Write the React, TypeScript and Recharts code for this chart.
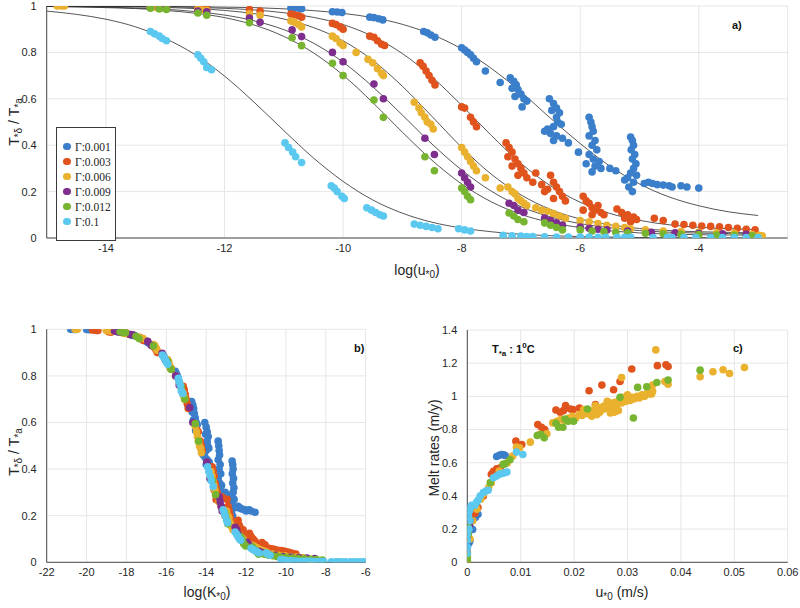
import React from 'react';
import { ComposedChart, ScatterChart, Scatter, Line, XAxis, YAxis, CartesianGrid } from 'recharts';

type Triple = [number, number, number]; // [log u*0, log K*0, T*δ/T*a]
type Pair = [number, number]; // [u*0 (m/s), melt rate (m/y)]

const gammaLabels = ['Γ:0.001', 'Γ:0.003', 'Γ:0.006', 'Γ:0.009', 'Γ:0.012', 'Γ:0.1'];
const seriesColors = ['#3b7fcb', '#e0531c', '#eab12e', '#7e2f8e', '#77b531', '#5bc8ef'];

const g001: Triple[] = [
  [-13.25, -20.8, 1.0], [-13.15, -20.7, 1.0], [-13.05, -20.6, 0.999], [-12.98, -20.53, 0.999],
  [-12.45, -20.0, 0.999], [-12.38, -19.93, 0.999], [-12.3, -19.85, 0.998],
  [-10.88, -18.43, 0.99], [-10.82, -18.37, 0.992], [-10.75, -18.3, 0.99], [-10.7, -18.25, 0.988],
  [-10.18, -17.73, 0.975], [-10.1, -17.65, 0.974], [-10.02, -17.57, 0.972],
  [-9.55, -17.1, 0.952], [-9.48, -17.03, 0.95], [-9.4, -16.95, 0.945], [-9.33, -16.88, 0.94],
  [-8.64, -16.19, 0.89], [-8.58, -16.13, 0.885], [-8.52, -16.07, 0.875], [-8.45, -16.0, 0.865],
  [-8.0, -15.55, 0.82], [-7.95, -15.5, 0.81], [-7.9, -15.45, 0.8], [-7.85, -15.4, 0.79], [-7.8, -15.35, 0.775], [-7.75, -15.3, 0.76],
  [-7.6, -15.15, 0.72], [-7.35, -14.9, 0.67],
  [-7.18, -14.73, 0.69], [-7.12, -14.67, 0.675], [-7.08, -14.63, 0.66], [-7.15, -14.7, 0.645], [-7.05, -14.6, 0.64],
  [-7.0, -14.55, 0.62], [-6.95, -14.5, 0.6], [-7.1, -14.65, 0.61], [-6.9, -14.45, 0.59], [-6.98, -14.53, 0.565],
  [-6.52, -14.07, 0.6], [-6.45, -14.0, 0.58], [-6.4, -13.95, 0.56], [-6.48, -14.03, 0.55], [-6.35, -13.9, 0.54],
  [-6.4, -13.95, 0.52], [-6.38, -13.93, 0.5], [-6.32, -13.87, 0.49], [-6.45, -14.0, 0.48], [-6.55, -14.1, 0.47],
  [-6.6, -14.15, 0.46], [-6.5, -14.05, 0.45], [-6.4, -13.95, 0.44], [-6.3, -13.85, 0.43], [-6.45, -14.0, 0.42], [-6.2, -13.75, 0.41],
  [-6.03, -13.58, 0.37],
  [-5.85, -13.4, 0.52], [-5.82, -13.37, 0.5], [-5.8, -13.35, 0.48], [-5.78, -13.33, 0.46], [-5.85, -13.4, 0.44],
  [-5.75, -13.3, 0.42], [-5.8, -13.35, 0.4], [-5.72, -13.27, 0.38], [-5.85, -13.4, 0.36], [-5.78, -13.33, 0.34],
  [-5.68, -13.23, 0.33], [-5.9, -13.45, 0.32], [-5.75, -13.3, 0.31], [-5.65, -13.2, 0.3], [-5.8, -13.35, 0.285],
  [-5.5, -13.05, 0.3], [-5.4, -12.95, 0.29],
  [-5.15, -12.7, 0.435], [-5.12, -12.67, 0.42], [-5.1, -12.65, 0.4], [-5.14, -12.69, 0.38], [-5.08, -12.63, 0.36],
  [-5.12, -12.67, 0.34], [-5.06, -12.61, 0.32], [-5.1, -12.65, 0.3], [-5.15, -12.7, 0.28], [-5.05, -12.6, 0.27],
  [-5.2, -12.75, 0.26], [-5.25, -12.8, 0.25], [-5.1, -12.65, 0.24], [-5.18, -12.73, 0.22], [-5.12, -12.67, 0.2],
  [-4.92, -12.47, 0.235], [-4.85, -12.4, 0.24], [-4.78, -12.33, 0.235], [-4.7, -12.25, 0.23], [-4.6, -12.15, 0.228],
  [-4.5, -12.05, 0.225], [-4.45, -12.0, 0.22], [-4.3, -11.85, 0.225], [-4.2, -11.75, 0.22], [-4.0, -11.55, 0.215],
];

const g003: Triple[] = [
  [-13.25, -19.7, 0.997], [-13.15, -19.6, 0.996], [-13.05, -19.5, 0.995], [-12.98, -19.43, 0.995],
  [-12.45, -18.9, 0.99], [-12.38, -18.83, 0.99], [-12.3, -18.75, 0.988],
  [-11.58, -18.03, 0.985], [-11.4, -17.85, 0.978],
  [-10.88, -17.33, 0.965], [-10.82, -17.27, 0.962], [-10.75, -17.2, 0.958], [-10.7, -17.15, 0.952],
  [-10.18, -16.63, 0.925], [-10.12, -16.57, 0.92], [-10.05, -16.5, 0.91], [-10.0, -16.45, 0.9],
  [-9.55, -16.0, 0.87], [-9.48, -15.93, 0.865], [-9.42, -15.87, 0.85], [-9.35, -15.8, 0.835], [-9.3, -15.75, 0.83],
  [-8.7, -15.15, 0.755], [-8.65, -15.1, 0.74], [-8.6, -15.05, 0.72], [-8.55, -15.0, 0.7], [-8.5, -14.95, 0.68], [-8.45, -14.9, 0.66],
  [-8.0, -14.45, 0.565], [-7.95, -14.4, 0.56], [-7.85, -14.3, 0.52], [-7.8, -14.25, 0.5], [-7.75, -14.2, 0.48],
  [-7.25, -13.7, 0.41], [-7.2, -13.65, 0.39], [-7.15, -13.6, 0.37], [-7.22, -13.67, 0.35], [-7.1, -13.55, 0.34],
  [-7.05, -13.5, 0.32], [-7.15, -13.6, 0.31], [-7.0, -13.45, 0.3], [-6.95, -13.4, 0.28], [-7.05, -13.5, 0.27], [-6.9, -13.35, 0.26],
  [-6.75, -13.2, 0.28], [-6.8, -13.25, 0.24], [-6.65, -13.1, 0.23], [-6.5, -12.95, 0.27], [-6.45, -12.9, 0.24],
  [-6.4, -12.85, 0.22], [-6.55, -13.0, 0.21], [-6.35, -12.8, 0.2], [-6.3, -12.75, 0.18], [-6.45, -12.9, 0.17],
  [-6.25, -12.7, 0.16], [-6.6, -13.05, 0.2],
  [-5.95, -12.4, 0.18], [-5.9, -12.35, 0.16], [-5.85, -12.3, 0.15], [-5.8, -12.25, 0.13], [-5.75, -12.2, 0.12],
  [-5.7, -12.15, 0.14], [-5.65, -12.1, 0.11], [-5.6, -12.05, 0.1], [-5.95, -12.4, 0.12], [-5.8, -12.25, 0.1],
  [-5.38, -11.83, 0.125], [-5.3, -11.75, 0.11], [-5.2, -11.65, 0.1], [-5.1, -11.55, 0.09], [-5.05, -11.5, 0.08],
  [-5.25, -11.7, 0.085], [-5.15, -11.6, 0.07],
  [-4.75, -11.2, 0.085], [-4.6, -11.05, 0.075],
  [-4.4, -10.85, 0.06], [-4.25, -10.7, 0.058], [-4.1, -10.55, 0.055], [-3.95, -10.4, 0.052], [-3.8, -10.25, 0.05],
  [-3.65, -10.1, 0.048], [-3.5, -9.95, 0.045], [-3.35, -9.8, 0.042], [-3.2, -9.65, 0.038], [-3.05, -9.5, 0.035],
];

const g006: Triple[] = [
  [-14.82, -20.58, 1.0], [-14.75, -20.51, 1.0], [-14.7, -20.46, 1.0],
  [-13.25, -19.01, 0.995], [-13.15, -18.91, 0.994], [-13.05, -18.81, 0.993], [-12.98, -18.74, 0.993],
  [-12.45, -18.21, 0.985], [-12.38, -18.14, 0.983], [-12.3, -18.06, 0.982],
  [-11.58, -17.34, 0.966], [-11.4, -17.16, 0.96],
  [-10.88, -16.64, 0.935], [-10.82, -16.58, 0.93], [-10.75, -16.51, 0.92], [-10.7, -16.46, 0.91],
  [-10.18, -15.94, 0.87], [-10.12, -15.88, 0.86], [-10.05, -15.81, 0.84], [-10.0, -15.76, 0.83],
  [-9.78, -15.54, 0.8],
  [-9.58, -15.34, 0.77], [-9.5, -15.26, 0.755], [-9.42, -15.18, 0.73], [-9.35, -15.11, 0.71], [-9.32, -15.08, 0.7],
  [-8.8, -14.56, 0.585], [-8.72, -14.48, 0.56], [-8.68, -14.44, 0.54], [-8.62, -14.38, 0.52], [-8.58, -14.34, 0.5],
  [-8.52, -14.28, 0.49], [-8.48, -14.24, 0.47],
  [-8.0, -13.76, 0.39], [-7.95, -13.71, 0.37], [-7.9, -13.66, 0.35], [-7.85, -13.61, 0.33], [-7.8, -13.56, 0.31], [-7.75, -13.51, 0.29],
  [-7.6, -13.36, 0.26], [-7.35, -13.11, 0.215],
  [-7.22, -12.98, 0.22], [-7.15, -12.91, 0.2], [-7.1, -12.86, 0.19], [-7.05, -12.81, 0.17], [-7.0, -12.76, 0.16],
  [-6.95, -12.71, 0.15], [-6.9, -12.66, 0.14],
  [-6.75, -12.51, 0.13], [-6.65, -12.41, 0.12], [-6.55, -12.31, 0.115], [-6.45, -12.21, 0.105], [-6.35, -12.11, 0.095], [-6.25, -12.01, 0.085],
  [-6.0, -11.76, 0.075], [-5.85, -11.61, 0.07], [-5.7, -11.46, 0.062], [-5.55, -11.31, 0.055], [-5.4, -11.16, 0.05],
  [-5.25, -11.01, 0.045], [-5.15, -10.91, 0.04],
  [-4.9, -10.66, 0.035], [-4.6, -10.36, 0.03], [-4.3, -10.06, 0.028], [-4.0, -9.76, 0.025], [-3.7, -9.46, 0.022],
  [-3.4, -9.16, 0.02], [-3.1, -8.86, 0.015], [-2.98, -8.74, 0.012], [-2.93, -8.69, 0.01],
];

const g009: Triple[] = [
  [-13.25, -18.6, 0.993], [-13.1, -18.45, 0.99], [-12.98, -18.33, 0.988],
  [-12.45, -17.8, 0.978], [-12.3, -17.65, 0.975],
  [-11.58, -16.93, 0.948], [-11.4, -16.75, 0.93],
  [-10.86, -16.21, 0.897], [-10.7, -16.05, 0.868],
  [-10.18, -15.53, 0.8], [-10.0, -15.35, 0.76],
  [-9.48, -14.83, 0.664], [-9.32, -14.67, 0.6],
  [-8.62, -13.97, 0.43], [-8.46, -13.81, 0.36],
  [-8.0, -13.35, 0.28], [-7.95, -13.3, 0.26], [-7.9, -13.25, 0.24], [-7.85, -13.2, 0.22],
  [-7.2, -12.55, 0.15], [-7.12, -12.47, 0.14], [-7.05, -12.4, 0.12], [-6.95, -12.3, 0.11],
  [-6.6, -11.95, 0.086], [-6.5, -11.85, 0.075], [-6.4, -11.75, 0.065], [-6.3, -11.65, 0.056],
  [-6.0, -11.35, 0.047], [-5.85, -11.2, 0.042], [-5.7, -11.05, 0.038], [-5.55, -10.9, 0.035],
  [-5.2, -10.55, 0.03], [-4.8, -10.15, 0.025], [-4.4, -9.75, 0.022], [-4.0, -9.35, 0.02], [-3.6, -8.95, 0.018], [-3.2, -8.55, 0.016],
];

const g012: Triple[] = [
  [-13.25, -18.32, 0.99], [-13.1, -18.17, 0.987], [-12.98, -18.05, 0.985],
  [-12.45, -17.52, 0.97], [-12.3, -17.37, 0.96],
  [-11.58, -16.65, 0.928],
  [-10.86, -15.93, 0.863], [-10.7, -15.77, 0.829],
  [-10.18, -15.25, 0.753], [-10.0, -15.07, 0.7],
  [-9.48, -14.55, 0.595], [-9.32, -14.39, 0.52],
  [-8.62, -13.69, 0.35], [-8.46, -13.53, 0.29],
  [-8.0, -13.07, 0.215], [-7.95, -13.02, 0.2], [-7.9, -12.97, 0.18], [-7.85, -12.92, 0.165],
  [-7.2, -12.27, 0.108], [-7.12, -12.19, 0.095], [-7.05, -12.12, 0.08], [-6.95, -12.02, 0.07],
  [-6.6, -11.67, 0.065], [-6.5, -11.57, 0.055], [-6.4, -11.47, 0.045], [-6.3, -11.37, 0.035],
  [-6.0, -11.07, 0.035], [-5.8, -10.87, 0.03], [-5.6, -10.67, 0.028], [-5.4, -10.47, 0.025], [-5.2, -10.27, 0.022],
  [-4.9, -9.97, 0.02], [-4.6, -9.67, 0.018], [-4.3, -9.37, 0.016], [-4.0, -9.07, 0.015], [-3.7, -8.77, 0.013],
  [-3.4, -8.47, 0.012], [-3.1, -8.17, 0.01],
];

const g100: Triple[] = [
  [-13.25, -16.2, 0.89], [-13.18, -16.13, 0.88], [-13.1, -16.05, 0.87], [-13.05, -16.0, 0.86], [-12.98, -15.93, 0.85],
  [-12.45, -15.4, 0.79], [-12.4, -15.35, 0.775], [-12.35, -15.3, 0.76], [-12.3, -15.25, 0.735], [-12.22, -15.17, 0.725],
  [-10.98, -13.93, 0.41], [-10.92, -13.87, 0.39], [-10.85, -13.8, 0.37], [-10.8, -13.75, 0.35], [-10.7, -13.65, 0.325],
  [-10.2, -13.15, 0.225], [-10.15, -13.1, 0.215], [-10.1, -13.05, 0.2], [-10.02, -12.97, 0.18], [-9.98, -12.93, 0.17],
  [-9.6, -12.55, 0.13], [-9.52, -12.47, 0.12], [-9.45, -12.4, 0.11], [-9.38, -12.33, 0.1], [-9.32, -12.27, 0.095],
  [-8.8, -11.75, 0.06], [-8.7, -11.65, 0.055], [-8.6, -11.55, 0.05], [-8.5, -11.45, 0.045], [-8.4, -11.35, 0.04],
  [-8.05, -11.0, 0.04], [-7.95, -10.9, 0.035], [-7.85, -10.8, 0.03],
  [-7.3, -10.25, 0.012], [-7.15, -10.1, 0.01], [-7.0, -9.95, 0.008], [-6.9, -9.85, 0.006],
  [-6.8, -9.75, 0.006], [-6.6, -9.55, 0.005], [-6.4, -9.35, 0.004], [-6.2, -9.15, 0.004],
  [-6.0, -8.95, 0.004], [-5.85, -8.8, 0.004], [-5.7, -8.65, 0.003], [-5.57, -8.52, 0.003],
  [-5.38, -8.33, 0.003], [-5.25, -8.2, 0.003], [-5.15, -8.1, 0.003],
  [-4.77, -7.72, 0.002], [-4.53, -7.48, 0.002],
  [-4.45, -7.4, 0.002], [-4.25, -7.2, 0.002], [-4.05, -7.0, 0.002], [-3.8, -6.75, 0.002],
  [-3.6, -6.55, 0.002], [-3.4, -6.35, 0.002], [-3.2, -6.15, 0.002], [-3.0, -6.0, 0.002],
];

// fitted curves for panel a, sampled every 0.5 in log(u*0)
const curveX = [-15, -14.5, -14, -13.5, -13, -12.5, -12, -11.5, -11, -10.5, -10, -9.5, -9, -8.5, -8, -7.5, -7, -6.5, -6, -5.5, -5, -4.5, -4, -3.5, -3];
const fit001 = [1.0, 1.0, 0.999, 0.999, 0.998, 0.997, 0.995, 0.993, 0.988, 0.98, 0.968, 0.95, 0.921, 0.877, 0.815, 0.731, 0.63, 0.516, 0.407, 0.31, 0.233, 0.177, 0.139, 0.113, 0.097];
const fit003 = [1.0, 0.999, 0.999, 0.998, 0.997, 0.994, 0.99, 0.983, 0.971, 0.951, 0.92, 0.869, 0.795, 0.694, 0.572, 0.442, 0.322, 0.225, 0.154, 0.106, 0.076, 0.057, 0.046, 0.04, 0.036];
const fit006 = [0.999, 0.999, 0.998, 0.996, 0.994, 0.989, 0.981, 0.967, 0.944, 0.907, 0.85, 0.766, 0.654, 0.524, 0.391, 0.275, 0.186, 0.123, 0.082, 0.057, 0.041, 0.032, 0.027, 0.024, 0.022];
const fit009 = [0.998, 0.997, 0.995, 0.991, 0.986, 0.976, 0.961, 0.936, 0.898, 0.84, 0.758, 0.652, 0.53, 0.405, 0.293, 0.202, 0.135, 0.091, 0.062, 0.044, 0.032, 0.025, 0.021, 0.019, 0.017];
const fit012 = [0.998, 0.996, 0.993, 0.989, 0.981, 0.969, 0.95, 0.918, 0.869, 0.798, 0.702, 0.584, 0.456, 0.335, 0.233, 0.156, 0.102, 0.067, 0.045, 0.031, 0.022, 0.017, 0.014, 0.013, 0.012];
const fit100 = [0.978, 0.964, 0.943, 0.91, 0.86, 0.791, 0.698, 0.585, 0.463, 0.345, 0.244, 0.164, 0.107, 0.068, 0.043, 0.027, 0.016, 0.01, 0.006, 0.004, 0.002, 0.001, 0.001, 0, 0];

// melt rate against friction velocity (panel c)
const melt001: Pair[] = [
  [0.0, 0.02], [0.0, 0.05], [0.0, 0.09], [0.0003, 0.115], [0.0005, 0.13], [0.0008, 0.2], [0.001, 0.198],
  [0.0015, 0.27], [0.0017, 0.284], [0.002, 0.29],
  [0.0055, 0.638], [0.006, 0.645], [0.0064, 0.65], [0.0068, 0.648], [0.0071, 0.644],
];
const melt003: Pair[] = [
  [0.0, 0.01], [0.0, 0.06], [0.0, 0.15], [0.0005, 0.24], [0.0014, 0.294], [0.002, 0.33], [0.003, 0.4],
  [0.0045, 0.53], [0.0049, 0.548], [0.0055, 0.564], [0.0062, 0.57], [0.0091, 0.73], [0.0102, 0.71],
  [0.0132, 0.83], [0.0139, 0.814], [0.0145, 0.8], [0.0166, 0.918], [0.0174, 0.904], [0.018, 0.914],
  [0.0184, 0.944], [0.0193, 0.924], [0.0198, 0.92], [0.021, 0.93], [0.024, 0.95],
  [0.0228, 1.034], [0.0252, 1.068], [0.0274, 1.04], [0.0286, 1.09], [0.0308, 1.165],
  [0.0356, 1.185], [0.0372, 1.19], [0.0376, 1.18],
];
const melt006: Pair[] = [
  [0.0, 0.0], [0.0, 0.01], [0.0, 0.04], [0.0005, 0.14], [0.001, 0.25], [0.0018, 0.32], [0.0025, 0.38],
  [0.003, 0.41], [0.004, 0.45], [0.0045, 0.48], [0.006, 0.55], [0.0075, 0.6], [0.0085, 0.64], [0.0092, 0.694],
  [0.0098, 0.69], [0.0118, 0.724], [0.0135, 0.77], [0.0149, 0.774],
  [0.016, 0.84], [0.0168, 0.85], [0.0175, 0.86], [0.0182, 0.855], [0.019, 0.87], [0.0197, 0.88], [0.0203, 0.87],
  [0.021, 0.89], [0.0215, 0.885], [0.022, 0.9], [0.0225, 0.895], [0.023, 0.91], [0.0233, 0.88], [0.0238, 0.92],
  [0.0242, 0.905], [0.0247, 0.93], [0.025, 0.915], [0.0255, 0.94], [0.0258, 0.925], [0.0262, 0.95], [0.0266, 0.935],
  [0.027, 0.96], [0.0274, 0.945], [0.0277, 0.965], [0.0281, 0.955], [0.0285, 0.975], [0.0289, 0.96], [0.0293, 0.98],
  [0.0297, 0.97], [0.0301, 0.99], [0.0305, 0.975], [0.0309, 0.995], [0.0313, 0.985], [0.0318, 1.0], [0.0322, 0.99],
  [0.0327, 1.01], [0.0332, 1.0], [0.0337, 1.02], [0.0342, 1.015], [0.0347, 1.03],
  [0.0243, 0.89], [0.0268, 0.9], [0.0278, 0.91], [0.0283, 0.915], [0.0275, 0.905], [0.0248, 0.905],
  [0.0218, 0.92], [0.024, 0.945], [0.0262, 0.97], [0.029, 0.995], [0.03, 1.01],
  [0.0289, 1.114], [0.0345, 1.014], [0.0353, 1.28], [0.0347, 1.068], [0.037, 1.089], [0.0376, 1.073],
  [0.0436, 1.118], [0.046, 1.148], [0.0479, 1.16], [0.0491, 1.138], [0.0519, 1.174],
];
const melt009: Pair[] = [
  [0.0, 0.16], [0.0, 0.18], [0.0002, 0.19], [0.0004, 0.22], [0.0005, 0.25],
];
const melt012: Pair[] = [
  [0.0, 0.005], [0.0, 0.03], [0.0002, 0.17], [0.0002, 0.21], [0.0043, 0.48], [0.0067, 0.59], [0.0071, 0.594],
  [0.008, 0.618], [0.0131, 0.764], [0.0138, 0.77], [0.0144, 0.75], [0.0166, 0.838], [0.0171, 0.814],
  [0.0179, 0.814], [0.0183, 0.864], [0.0189, 0.85], [0.0199, 0.85], [0.0225, 0.924], [0.0286, 0.994],
  [0.0311, 0.87], [0.0319, 1.054], [0.0336, 1.058], [0.0355, 1.084], [0.0376, 1.098], [0.0436, 1.158],
];
const melt100: Pair[] = [
  [0.0, 0.054], [0.0, 0.09], [0.0, 0.134], [0.0, 0.17], [0.0003, 0.2], [0.0005, 0.25], [0.0002, 0.28],
  [0.0004, 0.31], [0.0006, 0.33], [0.0008, 0.344], [0.0014, 0.344], [0.0017, 0.36], [0.002, 0.374],
  [0.0024, 0.4], [0.003, 0.42], [0.0035, 0.43], [0.0039, 0.434], [0.0049, 0.51], [0.0055, 0.52],
  [0.006, 0.53], [0.0065, 0.535], [0.007, 0.54], [0.0074, 0.544], [0.0092, 0.664], [0.0104, 0.65],
];

const logSeries = [g001, g003, g006, g009, g012, g100];
const fitSeries = [fit001, fit003, fit006, fit009, fit012, fit100];
const meltSeries = [melt001, melt003, melt006, melt009, melt012, melt100];

const ticksA = [-14, -12, -10, -8, -6, -4];
const ticksB = [-22, -20, -18, -16, -14, -12, -10, -8, -6];
const ticksC = [0, 0.01, 0.02, 0.03, 0.04, 0.05, 0.06];
const ratioTicks = [0, 0.2, 0.4, 0.6, 0.8, 1];
const meltTicks = [0, 0.2, 0.4, 0.6, 0.8, 1, 1.2, 1.4];

const FONT = '"Liberation Sans", Arial, Helvetica, sans-serif';
const AXIS = '#4a4a4a';
const GRID = '#e6e6e6';
const TICK = { fontSize: 11, fill: '#262626', fontFamily: FONT };

const dot = (color: string) => (props: any) =>
  <circle cx={props.cx} cy={props.cy} r={3.8} fill={color} />;

const abs = (left: number, top: number): React.CSSProperties => ({ position: 'absolute', left, top });

const ratioTitle = (
  <span>T<sub style={{ fontSize: 10 }}>*δ</sub> / T<sub style={{ fontSize: 10 }}>*a</sub></span>
);

function YTitle({ x, y, children }: { x: number; y: number; children: React.ReactNode }) {
  return (
    <div style={{ ...abs(x, y), transform: 'translate(-50%, -50%) rotate(-90deg)', whiteSpace: 'nowrap', fontSize: 14, color: '#262626' }}>
      {children}
    </div>
  );
}

function XTitle({ x, y, children }: { x: number; y: number; children: React.ReactNode }) {
  return (
    <div style={{ ...abs(x, y), transform: 'translate(-50%, -50%)', whiteSpace: 'nowrap', fontSize: 14, color: '#262626' }}>
      {children}
    </div>
  );
}

function Tag({ x, y, children }: { x: number; y: number; children: React.ReactNode }) {
  return (
    <div style={{ ...abs(x, y), fontSize: 11, fontWeight: 'bold', color: '#111', whiteSpace: 'nowrap' }}>{children}</div>
  );
}

function GammaLegend() {
  return (
    <div style={{ ...abs(56, 127), width: 58, height: 101, border: '1px solid #3a3a3a', background: '#fff', paddingTop: 11 }}>
      {gammaLabels.map((label, i) => (
        <div key={label} style={{ height: 15, display: 'flex', alignItems: 'center', fontFamily: '"Liberation Serif", "Times New Roman", serif', fontSize: 11.5, color: '#222' }}>
          <span style={{ width: 7.5, height: 7.5, borderRadius: '50%', background: seriesColors[i], marginLeft: 6, marginRight: 4.5 }} />
          {label}
        </div>
      ))}
    </div>
  );
}

function PanelA() {
  return (
    <ComposedChart width={800} height={290} margin={{ top: 6, right: 12.3, bottom: 22, left: 6.7 }}>
      <CartesianGrid stroke={GRID} />
      <XAxis type="number" dataKey="x" domain={[-15, -2.5]} ticks={ticksA} allowDataOverflow tick={TICK}
        tickLine={false} axisLine={{ stroke: AXIS }} height={30} tickMargin={0} />
      <YAxis type="number" dataKey="y" domain={[0, 1]} ticks={ratioTicks} allowDataOverflow tick={TICK}
        tickLine={false} axisLine={{ stroke: AXIS }} width={40} tickMargin={4} />
      {logSeries.map((s, i) => (
        <Scatter key={gammaLabels[i]} data={s.map((p) => ({ x: p[0], y: p[2] }))} shape={dot(seriesColors[i])} isAnimationActive={false} />
      ))}
      {fitSeries.map((f, i) => (
        <Line key={'fit' + i} data={curveX.map((x, j) => ({ x, y: f[j] }))} dataKey="y" type="monotone" stroke="#2b2b2b"
          strokeWidth={0.8} dot={false} activeDot={false} isAnimationActive={false} />
      ))}
    </ComposedChart>
  );
}

function PanelB() {
  return (
    <ScatterChart width={400} height={308} margin={{ top: 29.3, right: 34.3, bottom: 15.7, left: 6.7 }}>
      <CartesianGrid stroke={GRID} />
      <XAxis type="number" dataKey="x" domain={[-22, -6]} ticks={ticksB} allowDataOverflow tick={TICK}
        tickLine={false} axisLine={{ stroke: AXIS }} height={30} tickMargin={0} />
      <YAxis type="number" dataKey="y" domain={[0, 1]} ticks={ratioTicks} allowDataOverflow tick={TICK}
        tickLine={false} axisLine={{ stroke: AXIS }} width={40} tickMargin={4} />
      {logSeries.map((s, i) => (
        <Scatter key={gammaLabels[i]} data={s.map((p) => ({ x: p[1], y: p[2] }))} shape={dot(seriesColors[i])} isAnimationActive={false} />
      ))}
    </ScatterChart>
  );
}

function PanelC() {
  return (
    <ScatterChart width={400} height={308} margin={{ top: 30, right: 12.3, bottom: 15.7, left: 27.3 }}>
      <CartesianGrid stroke={GRID} />
      <XAxis type="number" dataKey="x" domain={[0, 0.06]} ticks={ticksC} allowDataOverflow tick={TICK}
        tickLine={false} axisLine={{ stroke: AXIS }} height={30} tickMargin={0} />
      <YAxis type="number" dataKey="y" domain={[0, 1.4]} ticks={meltTicks} allowDataOverflow tick={TICK}
        tickLine={false} axisLine={{ stroke: AXIS }} width={40} tickMargin={4} />
      {meltSeries.map((s, i) => (
        <Scatter key={gammaLabels[i]} data={s.map((p) => ({ x: p[0], y: p[1] }))} shape={dot(seriesColors[i])} isAnimationActive={false} />
      ))}
    </ScatterChart>
  );
}

export default function App() {
  return (
    <div style={{ position: 'absolute', left: 0, top: 0, width: 800, height: 608, background: '#fff', fontFamily: FONT, overflow: 'hidden' }}>
      <div style={abs(0, 0)}><PanelA /></div>
      <div style={abs(0, 300)}><PanelB /></div>
      <div style={abs(400, 300)}><PanelC /></div>

      <GammaLegend />
      <YTitle x={15} y={122}>{ratioTitle}</YTitle>
      <XTitle x={417} y={271}>log(u<sub style={{ fontSize: 10 }}>*0</sub>)</XTitle>
      <Tag x={732} y={19}>a)</Tag>

      <YTitle x={15} y={452}>{ratioTitle}</YTitle>
      <XTitle x={207} y={593}>log(K<sub style={{ fontSize: 10 }}>*0</sub>)</XTitle>
      <Tag x={354} y={342}>b)</Tag>

      <YTitle x={434} y={448}>Melt rates (m/y)</YTitle>
      <XTitle x={622} y={593}>u<sub style={{ fontSize: 10 }}>*0</sub> (m/s)</XTitle>
      <Tag x={492} y={341}>T<sub style={{ fontSize: 8 }}>*a</sub> : 1<sup style={{ fontSize: 8 }}>0</sup>C</Tag>
      <Tag x={733} y={342}>c)</Tag>
    </div>
  );
}
